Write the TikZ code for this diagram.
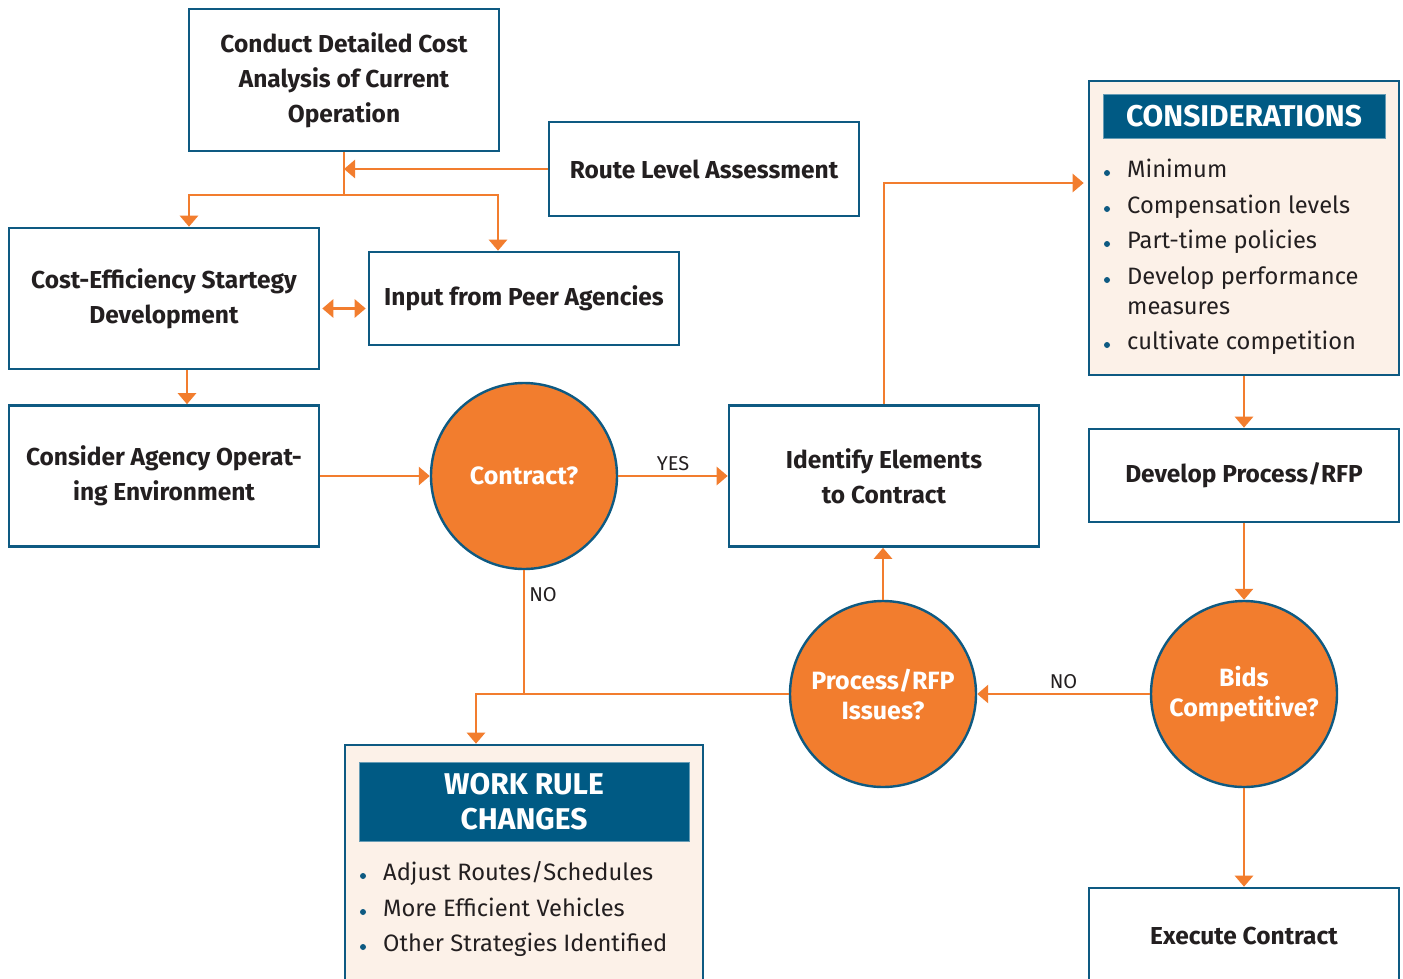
\documentclass[tikz,border=0pt]{standalone}
\usepackage{fontspec}
\setmainfont{Fira Sans}
\usetikzlibrary{arrows.meta,positioning,calc}
\definecolor{org}{HTML}{F27D2E}
\definecolor{dblue}{HTML}{0E5A82}
\definecolor{hblue}{HTML}{005A84}
\definecolor{beige}{HTML}{FCF1E8}
\definecolor{txt}{HTML}{231F20}
\tikzset{
  box/.style={draw=dblue,line width=2.6pt,fill=white,rectangle,align=center,text=txt,
     font=\fontsize{24.5}{35}\selectfont\bfseries},
  boxtext/.style={text=txt,align=center,font=\fontsize{24.5}{35}\selectfont\bfseries},
  decision/.style={circle,draw=dblue,line width=2.4pt,fill=org,text=white,align=center,
     minimum size=186pt,inner sep=0pt,font=\fontsize{25}{30}\selectfont\bfseries},
  conn/.style={draw=org,line width=2.6pt},
  arr/.style={conn,-{Triangle[length=11pt,width=18pt]}},
  darr/.style={conn,{Triangle[length=11pt,width=18pt]}-{Triangle[length=11pt,width=18pt]}},
  lbl/.style={text=txt,font=\fontsize{20}{22}\selectfont,inner sep=1pt},
  panel/.style={draw=dblue,line width=2.6pt,fill=beige,rectangle},
  header/.style={fill=hblue,draw=hblue!60,line width=0.6pt,text=white,align=center,
     font=\fontsize{30}{36}\selectfont\bfseries},
  item/.style={anchor=west,text=txt,align=left,inner sep=0pt,text height=17pt,text depth=5pt,
     font=\fontsize{23.7}{30}\selectfont},
  bullet/.style={circle,fill=dblue,inner sep=0pt,minimum size=6pt},
}
\begin{document}
\begin{tikzpicture}[x=1pt,y=-1pt]
\clip (0,0) rectangle (1403,978);
\fill[white] (0,0) rectangle (1403,978);
% boxes
\node[box,minimum width=310pt,minimum height=142pt] (A) at (344,80) {Conduct Detailed Cost\\Analysis of Current\\Operation};
\node[box,minimum width=310pt,minimum height=94pt] (B) at (704,169) {Route Level Assessment};
\node[box,minimum width=310pt,minimum height=141pt] (C) at (164,298.5) {Cost-Efficiency Startegy\\Development};
\node[box,minimum width=310pt,minimum height=93pt] (D) at (524,298.5) {Input from Peer Agencies};
\node[box,minimum width=310pt,minimum height=141pt] (E) at (164,476) {Consider Agency Operat-\\ing Environment};
\node[decision] (K) at (524,476) {Contract?};
\node[box,minimum width=310pt,minimum height=141pt] (F) at (884,476) {Identify Elements\\to Contract};
\node[box,minimum width=310pt,minimum height=93pt] (H) at (1244,475.5) {Develop Process/RFP};
\node[decision] (P) at (883,694) {Process/RFP\\Issues?};
\node[decision] (Q) at (1244,694) {Bids\\Competitive?};
\node[box,minimum width=310pt,minimum height=120pt] (X) at (1244,948) {};
\node[boxtext] (Xt) at (1244,936) {Execute Contract};
% considerations panel
\node[panel,minimum width=310pt,minimum height=294pt] (G) at (1244,228) {};
\node[header,minimum width=282pt,minimum height=44pt] (GH) at (1244,116) {CONSIDERATIONS};
\node[bullet] (g1b) at (1107,173) {};
\node[item] (g1) at (1127,171) {Minimum};
\node[bullet] (g2b) at (1107,209) {};
\node[item] (g2) at (1127,207) {Compensation levels};
\node[bullet] (g3b) at (1107,244) {};
\node[item] (g3) at (1127,242) {Part-time policies};
\node[bullet] (g4b) at (1107,280) {};
\node[item] (g4) at (1127,278) {Develop performance};
\node[item] (g4x) at (1127,308) {measures};
\node[bullet] (g5b) at (1107,345) {};
\node[item] (g5) at (1127,343) {cultivate competition};
% work rule panel
\node[panel,minimum width=358pt,minimum height=260pt] (W) at (524,875) {};
\node[header,minimum width=330pt,minimum height=79pt,font=\fontsize{30}{35}\selectfont\bfseries] (WH) at (524,801.5) {WORK RULE\\CHANGES};
\node[bullet] (w1b) at (363,876) {};
\node[item] (w1) at (383,874) {Adjust Routes/Schedules};
\node[bullet] (w2b) at (363,912) {};
\node[item] (w2) at (383,910) {More Efficient Vehicles};
\node[bullet] (w3b) at (363,947) {};
\node[item] (w3) at (383,945) {Other Strategies Identified};
% connectors
\coordinate (split) at (344,195);
\draw[conn] (A.south) -- (split);
\draw[arr] (split) -| ([xshift=25pt]C.north);
\draw[arr] (split) -| ([xshift=-26pt]D.north);
\draw[arr] (B.west) -- (split |- B.west);
\draw[darr] ([xshift=2pt,yshift=-10pt]C.east) -- ([xshift=-2pt,yshift=-10pt]D.west);
\draw[arr] ([xshift=23pt]C.south) -- ([xshift=23pt]E.north);
\draw[arr] (E.east) -- (K.west);
\draw[arr] (K.east) -- node[lbl,above=3pt] {YES} (F.west);
\coordinate (nojoin) at (K.south |- P.west);
\coordinate (wturn) at (476,694);
\draw[conn] (K.south) -- node[lbl,pos=0.2,right=3pt] {NO} (nojoin);
\draw[arr] (P.west) -- (wturn) -- ([xshift=-48pt]W.north);
\draw[arr] (P.north) -- (P.north |- F.south);
\draw[arr] (Q.west) -- node[lbl,above=3pt] {NO} (P.east);
\draw[arr] (F.north) |- ([yshift=45pt,xshift=-4pt]G.west);
\draw[arr] (G.south -| H.north) -- (H.north);
\draw[arr] (H.south) -- (Q.north);
\draw[arr] (Q.south) -- (X.north);
\end{tikzpicture}
\end{document}
